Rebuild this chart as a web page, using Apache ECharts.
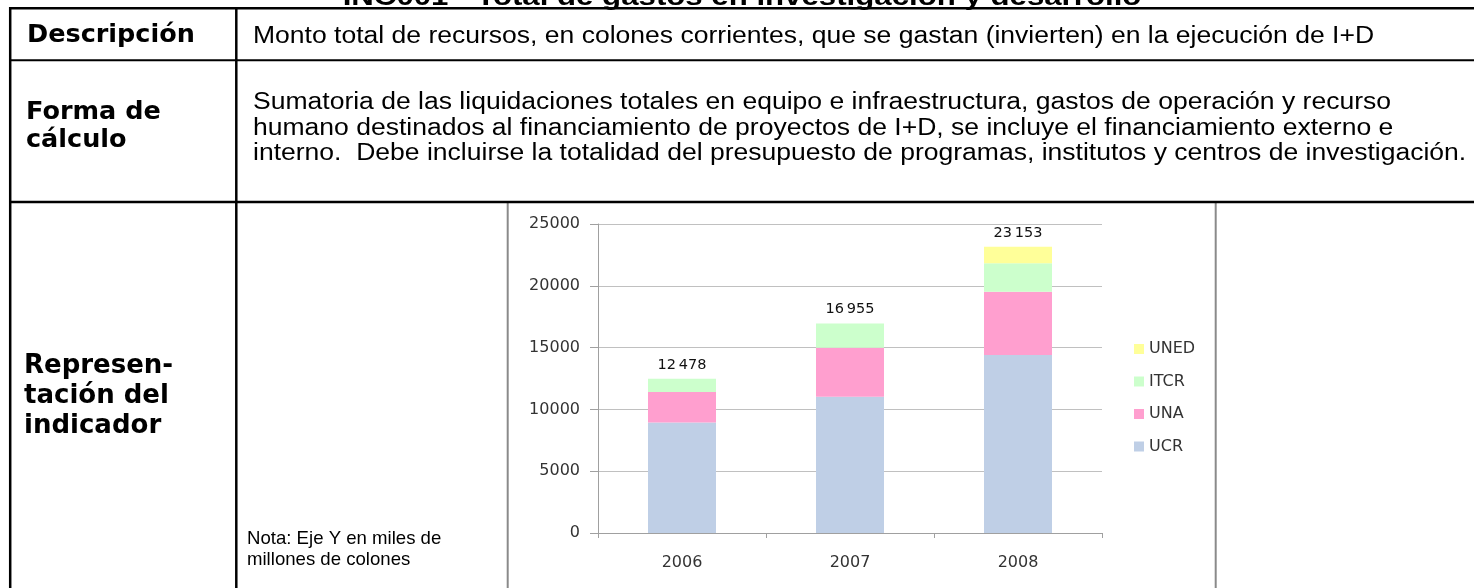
<!DOCTYPE html>
<html>
<head>
<meta charset="utf-8">
<title>INC001 - Total de gastos en investigación y desarrollo</title>
<script src="https://cdn.jsdelivr.net/npm/echarts@6.0.0/dist/echarts.min.js"></script>
<style>
  html, body { margin: 0; padding: 0; background: #fff; }
  #ficha { width: 1474px; height: 588px; }
</style>
</head>
<body>
<div id="ficha"></div>
<script>
  // datos (miles de millones de colones)
  var years = ['2006', '2007', '2008'];
  var ucr = [8950, 11020, 14400];
  var una = [2450, 3960, 5120];
  var itcr = [1078, 1975, 2300];
  var uned = [0, 0, 1333];
  var legendNames = ['UNED', 'ITCR', 'UNA', 'UCR'];
  var yMax = 25000;
  var yStep = 5000;

  // textos de la ficha
  var titulo = 'INC001 - Total de gastos en investigación y desarrollo';
  var descripcion = 'Monto total de recursos, en colones corrientes, que se gastan (invierten) en la ejecución de I+D';
  var formaCalculo = [
    'Sumatoria de las liquidaciones totales en equipo e infraestructura, gastos de operación y recurso',
    'humano destinados al financiamiento de proyectos de I+D, se incluye el financiamiento externo e',
    'interno.  Debe incluirse la totalidad del presupuesto de programas, institutos y centros de investigación.'
  ];
  var etiquetaForma = ['Forma de', 'cálculo'];
  var etiquetaRep = ['Represen-', 'tación del', 'indicador'];
  var nota = ['Nota: Eje Y en miles de', 'millones de colones'];

  var totales = [];
  for (var i = 0; i < years.length; i++) {
    totales.push(ucr[i] + una[i] + itcr[i] + uned[i]);
  }

  function miles(n) {
    return String(n).replace(/\B(?=(\d{3})+(?!\d))/g, '\u2009');
  }

  function txt(x, y, s, size, family, bold, sx, align) {
    return {
      type: 'text', x: x, y: y, scaleX: sx || 1, silent: true, z: 10,
      style: {
        text: s, fontSize: size, fontFamily: family,
        fontWeight: bold ? 'bold' : 'normal', fill: '#000',
        align: align || 'left', verticalAlign: 'middle'
      }
    };
  }

  function linea(x1, y1, x2, y2, w, color, z) {
    return {
      type: 'line', silent: true, z: z || 20,
      shape: {x1: x1, y1: y1, x2: x2, y2: y2},
      style: {stroke: color || '#000', lineWidth: w}
    };
  }

  var graficos = [];
  // marco del grafico
  graficos.push(linea(507.7, 202, 507.7, 588, 2, '#8a8a8a', 5));
  graficos.push(linea(1215.7, 202, 1215.7, 588, 2, '#8a8a8a', 5));
  // bordes de la tabla
  graficos.push(linea(9, 8.3, 1474, 8.3, 2.5));
  graficos.push(linea(9, 60.3, 1474, 60.3, 2));
  graficos.push(linea(9, 202, 1474, 202, 2.5));
  graficos.push(linea(10.2, 7, 10.2, 588, 2.5));
  graficos.push(linea(236.3, 7, 236.3, 588, 2.5));

  graficos.push(txt(742, -2, titulo, 26, 'Liberation Sans', true, 1.2, 'center'));
  graficos.push(txt(27, 35.5, 'Descripción', 25.5, 'DejaVu Sans', true));
  graficos.push(txt(253, 37, descripcion, 23, 'Liberation Sans', false, 1.153));
  for (var k = 0; k < etiquetaForma.length; k++) {
    graficos.push(txt(26, 112 + k * 28, etiquetaForma[k], 25.5, 'DejaVu Sans', true));
  }
  for (var k = 0; k < formaCalculo.length; k++) {
    graficos.push(txt(253, 102.5 + k * 25.8, formaCalculo[k], 23, 'Liberation Sans', false, 1.153));
  }
  for (var k = 0; k < etiquetaRep.length; k++) {
    graficos.push(txt(24, 366 + k * 30, etiquetaRep[k], 26, 'DejaVu Sans', true));
  }
  graficos.push(txt(247, 539, nota[0], 18.6, 'Liberation Sans', false));
  graficos.push(txt(247, 559.5, nota[1], 18.6, 'Liberation Sans', false));

  var fuente = 'DejaVu Sans';
  var option = {
    animation: false,
    backgroundColor: '#fff',
    graphic: graficos,
    grid: {left: 598, top: 224, width: 504, height: 309, containLabel: false},
    legend: {
      data: legendNames,
      orient: 'vertical',
      left: 1134,
      top: 341,
      padding: 0,
      itemWidth: 10,
      itemHeight: 10,
      itemGap: 16.5,
      icon: 'rect',
      selectedMode: false,
      textStyle: {fontFamily: fuente, fontSize: 16, lineHeight: 16, color: '#333'}
    },
    xAxis: {
      type: 'category',
      data: years,
      axisLine: {lineStyle: {color: '#a0a0a0', width: 1}},
      axisTick: {show: true, length: 5, lineStyle: {color: '#a0a0a0'}},
      axisLabel: {margin: 22, fontFamily: fuente, fontSize: 16, color: '#333'}
    },
    yAxis: {
      type: 'value',
      min: 0,
      max: yMax,
      interval: yStep,
      axisLine: {show: true, lineStyle: {color: '#a0a0a0', width: 1}},
      axisTick: {show: true, length: 8, lineStyle: {color: '#a0a0a0'}},
      splitLine: {lineStyle: {color: '#c0c0c0', width: 1}},
      axisLabel: {
        margin: 18, fontFamily: fuente, fontSize: 16, color: '#333',
        formatter: function (v) { return String(v); }
      }
    },
    series: [
      {name: 'UCR', type: 'bar', stack: 'gasto', barWidth: 68, data: ucr, itemStyle: {color: '#bfcfe6'}},
      {name: 'UNA', type: 'bar', stack: 'gasto', barWidth: 68, data: una, itemStyle: {color: '#ff9fcf'}},
      {name: 'ITCR', type: 'bar', stack: 'gasto', barWidth: 68, data: itcr, itemStyle: {color: '#ccffcc'}},
      {
        name: 'UNED', type: 'bar', stack: 'gasto', barWidth: 68, data: uned,
        itemStyle: {color: '#ffff99'},
        label: {
          show: true,
          position: 'top',
          distance: 7,
          fontFamily: fuente,
          fontSize: 14.5,
          lineHeight: 14,
          color: '#111',
          formatter: function (p) { return miles(totales[p.dataIndex]); }
        }
      }
    ]
  };

  var chart = echarts.init(document.getElementById('ficha'));
  chart.setOption(option);
</script>
</body>
</html>
